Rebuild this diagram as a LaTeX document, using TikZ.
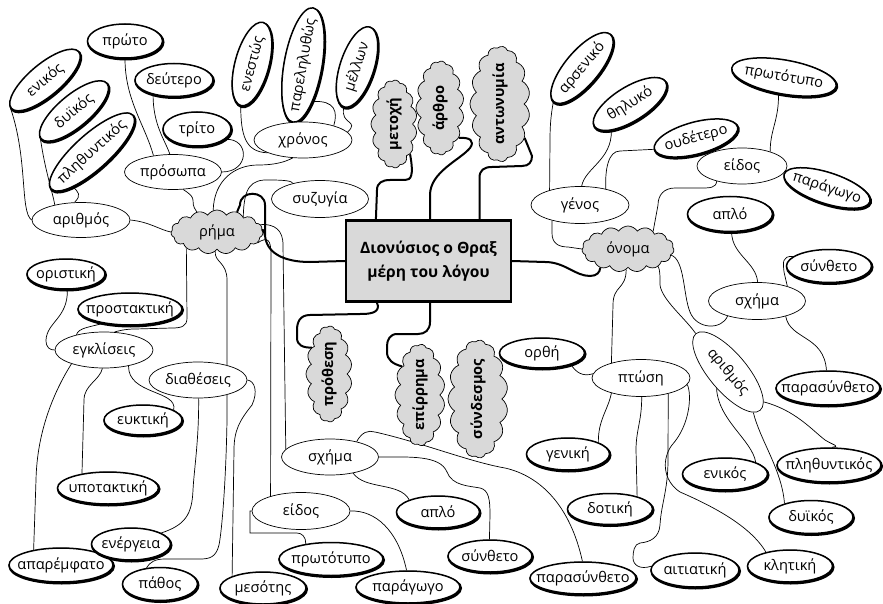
\documentclass[tikz,border=0pt]{standalone}
\usepackage{fontspec}
\setmainfont{Open Sans}
\usetikzlibrary{shapes.geometric,shapes.symbols,backgrounds}
\pgfdeclarelayer{bg}
\pgfsetlayers{bg,background,main}
\begin{document}
\begin{tikzpicture}[x=1pt,y=-1pt,
  every node/.style={font=\fontsize{14.6}{17}\selectfont},
  plain/.style={ellipse, draw, line width=0.7pt, fill=white, inner xsep=-44pt, inner ysep=-10pt, minimum height=36pt},
  leaf/.style={ellipse, draw, line width=1.5pt, fill=white, inner xsep=-44pt, inner ysep=-10pt, minimum height=32pt,
    preaction={draw, line width=2.6pt, transform canvas={shift={(0.7pt,-1.2pt)}}}},
  cl/.style={cloud, cloud puffs=15, cloud puff arc=115, cloud ignores aspect, draw, line width=0.7pt, fill=black!15, inner sep=0pt},
  clb/.style={cl, font=\bfseries\fontsize{14.6}{17}\selectfont},
  centerbox/.style={draw, line width=2.2pt, fill=black!15, minimum width=165pt, minimum height=81pt, align=center, font=\bfseries\fontsize{15.6}{24}\selectfont},
  conn/.style={line width=0.7pt},
  trunk/.style={line width=2pt}]
\begin{pgfonlayer}{bg}
\fill[white] (0,0) rectangle (883,604);
\end{pgfonlayer}
\useasboundingbox (0,0) rectangle (883,604);

% centre
\node[centerbox] (box) at (428.5,261) {Διονύσιος ο Θραξ\\μέρη του λόγου};

% verb cluster
\node[leaf, minimum width=75pt, minimum height=34pt] (ppr) at (125,41) {πρώτο};
\node[leaf, minimum width=78pt, minimum height=33pt] (pdef) at (174,80) {δεύτερο};
\node[leaf, minimum width=68pt, minimum height=34pt] (ptri) at (197,129) {τρίτο};
\node[plain, minimum width=97pt, minimum height=35pt] (pros) at (173,172) {πρόσωπα};
\node[leaf, minimum width=88pt, rotate=40] (enk1) at (45,80) {ενικός};
\node[leaf, minimum width=86pt, rotate=40] (dyi1) at (74,111) {δυϊκός};
\node[leaf, minimum width=110pt, minimum height=35pt, rotate=42] (pli1) at (92,152) {πληθυντικός};
\node[plain, minimum width=98pt, minimum height=35pt] (ari1) at (81,220) {αριθμός};
\node[cl, minimum width=92pt, minimum height=44pt] (rima) at (217,232) {ρήμα};
\node[leaf, minimum width=86pt, minimum height=34pt, rotate=75] (ene) at (252,64) {ενεστώς};
\node[leaf, minimum width=116pt, minimum height=38pt, rotate=80] (par) at (303,65) {παρεληλυθώς};
\node[leaf, minimum width=84pt, minimum height=34pt, rotate=72] (mel) at (357,67) {μέλλων};
\node[plain, minimum width=98pt] (xro) at (303,140) {χρόνος};
\node[plain, minimum width=97pt, minimum height=37pt] (syz) at (320,199) {συζυγία};
\node[clb, rotate=90, minimum width=88pt, minimum height=46pt] (meto) at (394,124) {μετοχή};
\node[clb, rotate=90, minimum width=94pt, minimum height=48pt] (arth) at (440,108) {άρθρο};
\node[clb, rotate=90, minimum width=112pt, minimum height=60pt] (ant) at (500,104) {αντωνυμία};
\node[clb, rotate=90, minimum width=96pt, minimum height=46pt] (prot) at (329,374) {πρόθεση};
\node[clb, rotate=90, minimum width=100pt, minimum height=50pt] (epir) at (420,395) {επίρρημα};
\node[clb, rotate=90, minimum width=118pt, minimum height=60pt] (synd) at (478,399) {σύνδεσμος};

\node[leaf, minimum width=78pt, minimum height=30pt] (ori) at (66,274) {οριστική};
\node[leaf, minimum width=104pt] (prost) at (130,309) {προστακτική};
\node[plain, minimum width=98pt] (egk) at (104,350) {εγκλίσεις};
\node[plain, minimum width=98pt] (diat) at (198,380) {διαθέσεις};
\node[leaf, minimum width=78pt, minimum height=30pt] (euk) at (143,420) {ευκτική};
\node[leaf, minimum width=101pt] (ypo) at (108,488) {υποτακτική};
\node[leaf, minimum width=104pt, minimum height=34pt] (apar) at (61,565) {απαρέμφατο};
\node[leaf, minimum width=79pt] (ener) at (131,544) {ενέργεια};
\node[leaf, minimum width=75pt, minimum height=33pt] (pathos) at (160,584) {πάθος};
\node[leaf, minimum width=86pt] (mes) at (263,588) {μεσότης};
\node[plain, minimum width=98pt, minimum height=37pt] (eid1) at (301,511) {είδος};
\node[leaf, minimum width=104pt, minimum height=33pt] (prw1) at (331,559) {πρωτότυπο};
\node[leaf, minimum width=104pt] (parg1) at (408,587) {παράγωγο};
\node[plain, minimum width=97pt] (sxi1) at (330,457) {σχήμα};
\node[leaf, minimum width=83pt] (apl1) at (438,512) {απλό};
\node[leaf, minimum width=84pt] (syn1) at (490,556) {σύνθετο};
\node[leaf, minimum width=106pt] (pas1) at (583,578) {παρασύνθετο};

% noun cluster
\node[leaf, minimum width=88pt, minimum height=34pt, rotate=50] (ars) at (582,68) {αρσενικό};
\node[leaf, minimum width=84pt, minimum height=34pt, rotate=32] (thi) at (630,104) {θηλυκό};
\node[leaf, minimum width=86pt, minimum height=32pt, rotate=15] (oud) at (696,138) {ουδέτερο};
\node[leaf, minimum width=106pt, minimum height=34pt, rotate=-10] (prw2) at (784,77) {πρωτότυπο};
\node[plain, minimum width=90pt] (eid2) at (742,166) {είδος};
\node[leaf, minimum width=90pt, minimum height=31pt, rotate=-18] (parg2) at (827,188) {παράγωγο};
\node[plain, minimum width=98pt, minimum height=37pt] (gen) at (580,205) {γένος};
\node[leaf, minimum width=85pt, minimum height=35pt] (apl2) at (730,214) {απλό};
\node[cl, minimum width=92pt, minimum height=46pt] (onom) at (628,249) {όνομα};
\node[leaf, minimum width=85pt, minimum height=33pt] (syn2) at (829,266) {σύνθετο};
\node[plain, minimum width=97pt, minimum height=37pt] (sxi2) at (757,301) {σχήμα};
\node[plain, minimum width=100pt, minimum height=38pt, rotate=-50] (ari2) at (728,372) {αριθμός};
\node[plain, minimum width=98pt, minimum height=37pt] (ptw) at (641,378) {πτώση};
\node[leaf, minimum width=104pt, minimum height=34pt] (pas2) at (828,388) {παρασύνθετο};
\node[leaf, minimum width=85pt, minimum height=30pt] (orth) at (542,353) {ορθή};
\node[leaf, minimum width=83pt] (genk) at (568,454) {γενική};
\node[leaf, minimum width=85pt, minimum height=31pt] (dot) at (610,509) {δοτική};
\node[leaf, minimum width=88pt, minimum height=34pt] (ait) at (695,570) {αιτιατική};
\node[leaf, minimum width=85pt] (klit) at (790,566) {κλητική};
\node[leaf, minimum width=85pt] (enk2) at (725,474) {ενικός};
\node[leaf, minimum width=84pt, minimum height=33pt] (dyi2) at (811,517) {δυϊκός};
\node[leaf, minimum width=104pt, minimum height=34pt] (pli2) at (829,465) {πληθυντικός};

\begin{scope}[on background layer]
% trunks
\draw[trunk] ([xshift=31pt]box.north west) -- (377,190) .. controls (377,183) and (382,180) .. (390,180) -- (405,180) .. controls (411,180) and (414,176) .. (meto.208);
\draw[trunk] ([xshift=1.5pt]box.north) -- (430,195) .. controls (430,172) and (460,160) .. (470,148) .. controls (475,141) and (470,137) .. (arth.212);
\draw[trunk] ([xshift=51pt]box.north) -- (479.5,178) .. controls (479.5,170) and (484,167) .. (492,167) -- (522,166) .. controls (529,166) and (532,162) .. (532,156) -- (ant.216);
\draw[trunk] (box.west) -- (310,262) .. controls (282,262) and (266,252) .. (265,235) -- (265,205) .. controls (265,190) and (240,190) .. (240,205) -- (rima.45);
\draw[trunk] (265,236) .. controls (264,230) and (262,228) .. (rima.east);
\draw[trunk] ([xshift=32pt]box.south west) -- (378,306) .. controls (378,313) and (370,314) .. (360,314) -- (310,315) .. controls (300,315) and (297,322) .. (297,330) -- (297,338) .. controls (297,345) and (303,348) .. (prot.33);
\draw[trunk] ([xshift=1.5pt]box.south) -- (430,322) .. controls (430,330) and (425,334) .. (418,334) -- (397,334) .. controls (390,334) and (387,340) .. (387,346) -- (387,352) .. controls (387,360) and (393,364) .. (epir.32);
\draw[trunk] (box.east) -- (545,262) .. controls (565,262) and (575,276) .. (590,276) .. controls (597,276) and (600,272) .. (onom.214);

\begin{scope}[conn]
% verb
\draw (ppr.south) .. controls (125,100) and (145,125) .. (pros.140);
\draw (pdef.215) .. controls (153,125) and (165,140) .. (pros.100);
\draw (ptri.-20) .. controls (250,138) and (250,172) .. (pros.east);
\draw (pros.-60) .. controls (200,200) and (188,200) .. (rima.135);
\draw (enk1.west) .. controls (28,160) and (20,212) .. (ari1.west);
\draw (dyi1.west) .. controls (45,170) and (52,190) .. (ari1.150);
\draw (pli1.200) .. controls (78,192) and (82,195) .. (ari1.110);
\draw (ari1.east) .. controls (150,222) and (160,230) .. (rima.west);
\draw (ene.west) .. controls (241,135) and (245,152) .. (xro.200);
\draw (par.205) .. controls (335,100) and (338,112) .. (xro.25);
\draw (mel.west) .. controls (340,125) and (360,120) .. (xro.10);
\draw (rima.100) .. controls (214,180) and (235,165) .. (258,165) .. controls (275,165) and (285,162) .. (xro.240);
\draw (rima.30) .. controls (244,188) and (250,179) .. (270,180) .. controls (285,180) and (292,181) .. (syz.150);
\draw (rima.10) .. controls (275,224) and (283,230) .. (283,245) -- (sxi1.170);
\draw (rima.-15) .. controls (268,236) and (271,240) .. (271,255) -- (eid1.154);
\draw (rima.208) -- (187,318) .. controls (187,326) and (182,328) .. (172,328) -- (135,329) .. controls (125,329) and (118,331) .. (egk.60);
\draw (rima.-95) .. controls (214,262) and (227,262) .. (227,280) -- (diat.27);
\draw (ori.-85) .. controls (68,318) and (47,322) .. (46,340) .. controls (46,348) and (50,350) .. (egk.west);
\draw (prost.208) .. controls (90,327) and (78,328) .. (egk.151);
\draw (egk.-33) .. controls (128,395) and (178,390) .. (euk.18);
\draw (egk.-95) .. controls (100,380) and (84,385) .. (84,400) -- (ypo.151);
\draw (egk.203) .. controls (55,390) and (37,430) .. (36,480) -- (apar.151);
\draw (diat.-88) .. controls (199,440) and (194,470) .. (193,490) .. controls (192,515) and (185,525) .. (ener.20);
\draw (diat.-27) -- (227,420) .. controls (226,480) and (222,530) .. (219,545) .. controls (216,557) and (210,559) .. (200,559) -- (165,559) .. controls (155,559) and (150,562) .. (pathos.130);
\draw (diat.east) .. controls (255,381) and (258,392) .. (252,405) .. controls (240,420) and (234,430) .. (234,450) -- (mes.159);
\draw (eid1.west) -- (250,511) -- (250,533) -- (297,533) .. controls (302,533) and (306,537) .. (prw1.149);
\draw (eid1.east) .. controls (375,510) and (398,530) .. (parg1.95);
\draw (sxi1.-35) .. controls (365,490) and (400,482) .. (apl1.157);
\draw (sxi1.east) .. controls (410,457) and (440,455) .. (447,472) .. controls (452,486) and (470,486) .. (480,488) .. controls (489,490) and (490,500) .. (490,515) -- (syn1.92);
\draw (sxi1.30) .. controls (362,432) and (368,430) .. (375,432) .. controls (420,442) and (470,462) .. (505,468) .. controls (540,476) and (570,505) .. (pas1.92);
% noun
\draw (ars.west) .. controls (551,115) and (550,125) .. (550,140) -- (gen.154);
\draw (thi.203) .. controls (612,160) and (585,168) .. (gen.85);
\draw (oud.west) -- (620,151) .. controls (608,151) and (605,170) .. (gen.32);
\draw (prw2.262) .. controls (779,120) and (770,130) .. (eid2.27);
\draw (eid2.211) .. controls (716,188) and (710,188) .. (700,188) -- (675,188) .. controls (664,188) and (658,195) .. (658,205) -- (onom.35);
\draw (gen.209) -- (552,233) .. controls (552,243) and (558,247) .. (568,247) -- (onom.west);
\draw (apl2.-85) .. controls (732,255) and (756,262) .. (sxi2.88);
\draw (syn2.165) .. controls (782,256) and (783,262) .. (784,272) -- (sxi2.26);
\draw (sxi2.-28) .. controls (790,340) and (824,335) .. (pas2.95);
\draw (sxi2.207) .. controls (722,330) and (697,330) .. (690,312) .. controls (683,295) and (685,260) .. (onom.-8);
\draw (onom.-30) .. controls (660,270) and (660,275) .. (660,285) .. controls (662,300) and (685,318) .. (ari2.west);
\draw (onom.-95) .. controls (626,290) and (613,285) .. (613,305) -- (ptw.153);
\draw (orth.-22) .. controls (576,372) and (582,377) .. (ptw.175);
\draw (ptw.207) .. controls (608,410) and (598,420) .. (genk.21);
\draw (ptw.-88) .. controls (642,420) and (636,430) .. (636,450) -- (dot.25);
\draw (ptw.-30) -- (668,460) .. controls (668,490) and (661,505) .. (660,525) .. controls (659,538) and (650,542) .. (640,543) .. controls (634,544) and (633,552) .. (633,558) .. controls (633,565) and (640,570) .. (ait.175);
\draw (ptw.-8) .. controls (692,395) and (690,425) .. (672,445) .. controls (662,458) and (662,480) .. (680,492) .. controls (710,505) and (750,525) .. (klit.150);
\draw (ari2.-75) .. controls (718,420) and (752,440) .. (enk2.21);
\draw (ari2.-8) .. controls (760,440) and (782,470) .. (dyi2.153);
\draw (ari2.10) .. controls (795,410) and (812,430) .. (825,440) .. controls (835,446) and (840,446) .. (pli2.80);
\end{scope}
\end{scope}
\end{tikzpicture}
\end{document}
